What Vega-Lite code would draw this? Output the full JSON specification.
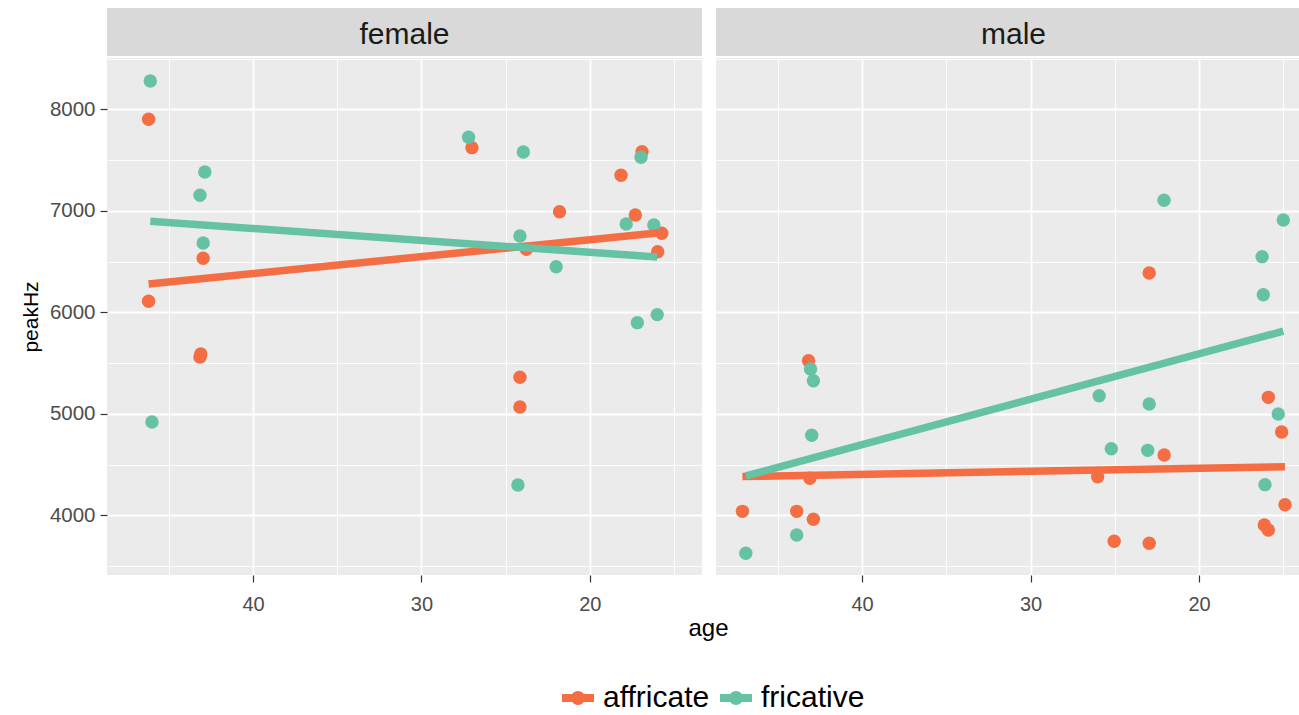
{
  "$schema": "https://vega.github.io/schema/vega-lite/v6.json",
  "padding": {"left": 20, "top": 8, "right": 0, "bottom": 0},
  "autosize": {"type": "pad"},
  "background": "white",
  "datasets": {
    "d": [
      {"sex": "female", "phoneme": "affricate", "age": 46.2, "peakHz": 7901},
      {"sex": "female", "phoneme": "affricate", "age": 46.2, "peakHz": 6108},
      {"sex": "female", "phoneme": "affricate", "age": 42.96, "peakHz": 6532},
      {"sex": "female", "phoneme": "affricate", "age": 43.1, "peakHz": 5589},
      {"sex": "female", "phoneme": "affricate", "age": 43.15, "peakHz": 5560},
      {"sex": "female", "phoneme": "affricate", "age": 27.0, "peakHz": 7622},
      {"sex": "female", "phoneme": "affricate", "age": 16.9, "peakHz": 7582},
      {"sex": "female", "phoneme": "affricate", "age": 18.15, "peakHz": 7350},
      {"sex": "female", "phoneme": "affricate", "age": 21.8, "peakHz": 6991},
      {"sex": "female", "phoneme": "affricate", "age": 17.3, "peakHz": 6959},
      {"sex": "female", "phoneme": "affricate", "age": 15.73, "peakHz": 6778},
      {"sex": "female", "phoneme": "affricate", "age": 23.77, "peakHz": 6621},
      {"sex": "female", "phoneme": "affricate", "age": 15.97, "peakHz": 6597},
      {"sex": "female", "phoneme": "affricate", "age": 24.15, "peakHz": 5360},
      {"sex": "female", "phoneme": "affricate", "age": 24.15, "peakHz": 5067},
      {"sex": "female", "phoneme": "fricative", "age": 46.1, "peakHz": 8279},
      {"sex": "female", "phoneme": "fricative", "age": 46.0, "peakHz": 4919},
      {"sex": "female", "phoneme": "fricative", "age": 42.86, "peakHz": 7382},
      {"sex": "female", "phoneme": "fricative", "age": 43.15, "peakHz": 7153},
      {"sex": "female", "phoneme": "fricative", "age": 42.96, "peakHz": 6683},
      {"sex": "female", "phoneme": "fricative", "age": 27.2, "peakHz": 7724},
      {"sex": "female", "phoneme": "fricative", "age": 23.95, "peakHz": 7579},
      {"sex": "female", "phoneme": "fricative", "age": 24.15, "peakHz": 6752},
      {"sex": "female", "phoneme": "fricative", "age": 24.27, "peakHz": 4298},
      {"sex": "female", "phoneme": "fricative", "age": 22.0, "peakHz": 6449},
      {"sex": "female", "phoneme": "fricative", "age": 16.96, "peakHz": 7527},
      {"sex": "female", "phoneme": "fricative", "age": 17.84, "peakHz": 6870},
      {"sex": "female", "phoneme": "fricative", "age": 16.2, "peakHz": 6860},
      {"sex": "female", "phoneme": "fricative", "age": 17.18, "peakHz": 5898},
      {"sex": "female", "phoneme": "fricative", "age": 16.0, "peakHz": 5977},
      {"sex": "male", "phoneme": "affricate", "age": 43.18, "peakHz": 5523},
      {"sex": "male", "phoneme": "affricate", "age": 43.1, "peakHz": 4365},
      {"sex": "male", "phoneme": "affricate", "age": 47.1, "peakHz": 4039},
      {"sex": "male", "phoneme": "affricate", "age": 43.88, "peakHz": 4039},
      {"sex": "male", "phoneme": "affricate", "age": 42.89, "peakHz": 3961},
      {"sex": "male", "phoneme": "affricate", "age": 22.96, "peakHz": 6387},
      {"sex": "male", "phoneme": "affricate", "age": 15.89, "peakHz": 5162},
      {"sex": "male", "phoneme": "affricate", "age": 15.1, "peakHz": 4821},
      {"sex": "male", "phoneme": "affricate", "age": 22.07, "peakHz": 4594},
      {"sex": "male", "phoneme": "affricate", "age": 26.02, "peakHz": 4380},
      {"sex": "male", "phoneme": "affricate", "age": 14.9, "peakHz": 4104},
      {"sex": "male", "phoneme": "affricate", "age": 16.13, "peakHz": 3904},
      {"sex": "male", "phoneme": "affricate", "age": 15.89, "peakHz": 3855},
      {"sex": "male", "phoneme": "affricate", "age": 25.04, "peakHz": 3744},
      {"sex": "male", "phoneme": "affricate", "age": 22.96, "peakHz": 3724},
      {"sex": "male", "phoneme": "fricative", "age": 43.06, "peakHz": 5441},
      {"sex": "male", "phoneme": "fricative", "age": 42.89, "peakHz": 5326},
      {"sex": "male", "phoneme": "fricative", "age": 42.99, "peakHz": 4788},
      {"sex": "male", "phoneme": "fricative", "age": 43.88, "peakHz": 3806},
      {"sex": "male", "phoneme": "fricative", "age": 46.9, "peakHz": 3626},
      {"sex": "male", "phoneme": "fricative", "age": 22.08, "peakHz": 7103},
      {"sex": "male", "phoneme": "fricative", "age": 15.0, "peakHz": 6909},
      {"sex": "male", "phoneme": "fricative", "age": 16.26, "peakHz": 6548},
      {"sex": "male", "phoneme": "fricative", "age": 16.19, "peakHz": 6173},
      {"sex": "male", "phoneme": "fricative", "age": 25.93, "peakHz": 5178},
      {"sex": "male", "phoneme": "fricative", "age": 22.96, "peakHz": 5097},
      {"sex": "male", "phoneme": "fricative", "age": 15.3, "peakHz": 4998},
      {"sex": "male", "phoneme": "fricative", "age": 25.21, "peakHz": 4656},
      {"sex": "male", "phoneme": "fricative", "age": 23.05, "peakHz": 4640},
      {"sex": "male", "phoneme": "fricative", "age": 16.09, "peakHz": 4302}
    ]
  },
  "config": {
    "font": "Liberation Sans",
    "axis": {
      "labelFont": "Liberation Sans",
      "titleFont": "Liberation Sans",
      "titleFontWeight": "normal",
      "titleColor": "#000000",
      "domain": false,
      "labelFlush": false,
      "labelOverlap": false,
      "gridColor": "#FFFFFF"
    },
    "legend": {"labelFont": "Liberation Sans"}
  },
  "columns": 2,
  "spacing": {"row": 2, "column": 14},
  "bounds": "flush",
  "concat": [
    {
      "width": 595,
      "height": 48,
      "view": {"fill": "#D9D9D9", "stroke": null},
      "data": {"values": [{"sex": "female"}]},
      "mark": {"type": "text", "fontSize": 30, "color": "#1A1A1A", "font": "Liberation Sans", "baseline": "middle", "dy": 3},
      "encoding": {"text": {"field": "sex", "type": "nominal"}}
    },
    {
      "width": 583,
      "height": 48,
      "view": {"fill": "#D9D9D9", "stroke": null},
      "data": {"values": [{"sex": "male"}]},
      "mark": {"type": "text", "fontSize": 30, "color": "#1A1A1A", "font": "Liberation Sans", "baseline": "middle", "dy": 3, "dx": 6},
      "encoding": {"text": {"field": "sex", "type": "nominal"}}
    },
    {
      "width": 595,
      "height": 517,
      "view": {"fill": "#EBEBEB", "stroke": null},
      "data": {"name": "d"},
      "transform": [{"filter": "datum.sex === 'female'"}],
      "encoding": {
        "x": {
          "field": "age", "type": "quantitative",
          "scale": {"domain": [13.34, 48.67], "reverse": true, "nice": false, "zero": false},
          "axis": {
            "values": [45, 40, 35, 30, 25, 20, 15],
            "title": "age", "titleX": 601, "titleFontSize": 24, "titlePadding": 2,
            "labelExpr": "datum.value % 10 === 0 ? datum.label : ''",
            "tickOpacity": {"condition": {"test": "datum.value % 10 === 0", "value": 1}, "value": 0},
            "gridWidth": {"condition": {"test": "datum.value % 10 === 0", "value": 1.8}, "value": 0.9},
            "tickSize": 7, "tickColor": "#333333", "tickWidth": 1.2,
            "labelFontSize": 20, "labelColor": "#4D4D4D", "labelPadding": 12
          }
        },
        "y": {
          "field": "peakHz", "type": "quantitative",
          "scale": {"domain": [3412, 8505], "nice": false, "zero": false},
          "axis": {
            "values": [3500, 4000, 4500, 5000, 5500, 6000, 6500, 7000, 7500, 8000, 8500],
            "title": "peakHz", "titleFontSize": 21, "titlePadding": 8,
            "labelExpr": "datum.value % 1000 === 0 ? datum.label : ''",
            "format": "d",
            "tickOpacity": {"condition": {"test": "datum.value % 1000 === 0", "value": 1}, "value": 0},
            "gridWidth": {"condition": {"test": "datum.value % 1000 === 0", "value": 1.8}, "value": 0.9},
            "tickSize": 7, "tickColor": "#333333", "tickWidth": 1.2,
            "labelFontSize": 20.5, "labelColor": "#4D4D4D", "labelPadding": 5
          }
        },
        "color": {
          "field": "phoneme", "type": "nominal",
          "scale": {"domain": ["affricate", "fricative"], "range": ["#F46D43", "#66C2A5"]},
          "legend": {
            "orient": "none", "legendX": 455, "legendY": 674, "direction": "horizontal",
            "title": null, "padding": 0,
            "symbolType": "M-1,-0.25H-0.362A0.44,0.44 0 0,1 0.362,-0.25H1V0.25H0.362A0.44,0.44 0 0,1 -0.362,0.25H-1Z",
            "symbolSize": 1024, "symbolStrokeWidth": 0, "symbolOpacity": 1,
            "labelFontSize": 30, "labelColor": "#000000", "labelOffset": 9, "columnPadding": 10
          }
        }
      },
      "layer": [
        {"mark": {"type": "circle", "size": 180, "opacity": 1}},
        {
          "transform": [{"regression": "peakHz", "on": "age", "groupby": ["phoneme"]}],
          "mark": {"type": "line", "strokeWidth": 7.5, "strokeCap": "butt"}
        }
      ]
    },
    {
      "width": 583,
      "height": 517,
      "view": {"fill": "#EBEBEB", "stroke": null},
      "data": {"name": "d"},
      "transform": [{"filter": "datum.sex === 'male'"}],
      "encoding": {
        "x": {
          "field": "age", "type": "quantitative",
          "scale": {"domain": [14.07, 48.67], "reverse": true, "nice": false, "zero": false},
          "axis": {
            "values": [45, 40, 35, 30, 25, 20, 15],
            "title": null,
            "labelExpr": "datum.value % 10 === 0 ? datum.label : ''",
            "tickOpacity": {"condition": {"test": "datum.value % 10 === 0", "value": 1}, "value": 0},
            "gridWidth": {"condition": {"test": "datum.value % 10 === 0", "value": 1.8}, "value": 0.9},
            "tickSize": 7, "tickColor": "#333333", "tickWidth": 1.2,
            "labelFontSize": 20, "labelColor": "#4D4D4D", "labelPadding": 12
          }
        },
        "y": {
          "field": "peakHz", "type": "quantitative",
          "scale": {"domain": [3412, 8505], "nice": false, "zero": false},
          "axis": {
            "values": [3500, 4000, 4500, 5000, 5500, 6000, 6500, 7000, 7500, 8000, 8500],
            "title": null, "labels": false, "ticks": false,
            "gridWidth": {"condition": {"test": "datum.value % 1000 === 0", "value": 1.8}, "value": 0.9}
          }
        },
        "color": {
          "field": "phoneme", "type": "nominal",
          "scale": {"domain": ["affricate", "fricative"], "range": ["#F46D43", "#66C2A5"]},
          "legend": {
            "orient": "none", "legendX": 455, "legendY": 674, "direction": "horizontal",
            "title": null, "padding": 0,
            "symbolType": "M-1,-0.25H-0.362A0.44,0.44 0 0,1 0.362,-0.25H1V0.25H0.362A0.44,0.44 0 0,1 -0.362,0.25H-1Z",
            "symbolSize": 1024, "symbolStrokeWidth": 0, "symbolOpacity": 1,
            "labelFontSize": 30, "labelColor": "#000000", "labelOffset": 9, "columnPadding": 10
          }
        }
      },
      "layer": [
        {"mark": {"type": "circle", "size": 180, "opacity": 1}},
        {
          "transform": [{"regression": "peakHz", "on": "age", "groupby": ["phoneme"]}],
          "mark": {"type": "line", "strokeWidth": 7.5, "strokeCap": "butt"}
        }
      ]
    }
  ]
}
